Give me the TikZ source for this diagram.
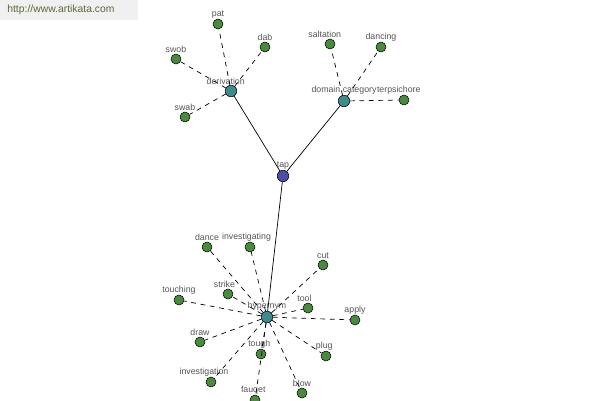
\documentclass[tikz,border=0pt]{standalone}
\usepackage{fontspec}
\setmainfont{Liberation Sans}
\definecolor{tapblue}{HTML}{4B4FA6}
\definecolor{midteal}{HTML}{3F8A8C}
\definecolor{leafgreen}{HTML}{4A8A3C}
\definecolor{labelgray}{HTML}{555555}
\definecolor{markgreen}{HTML}{5A6A3A}
\begin{document}
\begin{tikzpicture}
  [
  x=0.02cm, y=-0.02cm,
  vnode/.style={circle, draw=black, line width=0.3pt, inner sep=0pt, minimum size=10\pgflinewidth},
  rootnode/.style={vnode, fill=tapblue, minimum size=0.23cm},
  midnode/.style={vnode, fill=midteal, minimum size=0.23cm},
  leafnode/.style={vnode, fill=leafgreen, minimum size=0.2cm},
  every label/.style={font=\fontsize{5}{6}\selectfont, text=labelgray, inner sep=0pt},
  label distance=0.2pt,
  rel/.style={draw, line width=0.4pt},
  dashrel/.style={draw, line width=0.4pt, dash pattern=on 2.7pt off 2.7pt}
  ]
  \useasboundingbox (0,0) rectangle (600,400);
  \fill[gray!12] (0,0) rectangle (138,20);
  \node[anchor=west, inner sep=0pt, text=markgreen, font=\fontsize{5.9}{7}\selectfont] (mark) at (7,10) {http://www.artikata.com};

  \node[rootnode, label=above:tap] (tap) at (283,176) {};
  \node[midnode, label={[xshift=-3pt]above:derivation}] (der) at (231,91) {};
  \node[midnode, label=above:domain category] (dom) at (344,101) {};
  \node[midnode, label=above:hypernym] (hyp) at (267,317) {};

  \node[leafnode, label=above:pat] (pat) at (218,24) {};
  \node[leafnode, label=above:dab] (dab) at (265,47) {};
  \node[leafnode, label=above:swob] (swob) at (176,59) {};
  \node[leafnode, label=above:swab] (swab) at (185,117) {};

  \node[leafnode, label={[xshift=-3pt]above:saltation}] (salt) at (330,44) {};
  \node[leafnode, label=above:dancing] (danc) at (381,47) {};
  \node[leafnode, label={[xshift=-3pt]above:terpsichore}] (terp) at (404,100) {};

  \node[leafnode, label=above:dance] (dance) at (207,247) {};
  \node[leafnode, label={[xshift=-2pt]above:investigating}] (invg) at (250,247) {};
  \node[leafnode, label=above:cut] (cut) at (323,265) {};
  \node[leafnode, label={[xshift=-2pt]above:strike}] (strike) at (228,294) {};
  \node[leafnode, label=above:touching] (touch) at (179,300) {};
  \node[leafnode, label={[xshift=-2pt]above:tool}] (tool) at (308,308) {};
  \node[leafnode, label=above:apply] (apply) at (355,320) {};
  \node[leafnode, label=above:draw] (draw) at (200,342) {};
  \node[leafnode, label={[xshift=-1pt]above:tough}] (tough) at (261,354) {};
  \node[leafnode, label={[xshift=-1pt]above:plug}] (plug) at (326,356) {};
  \node[leafnode, label={[xshift=-4pt]above:investigation}] (invn) at (211,382) {};
  \node[leafnode, label=above:blow] (blow) at (302,393) {};
  \node[leafnode, label={[xshift=-1pt]above:fauqet}] (fauq) at (255,400) {};

  \path[rel] (tap) -- (der);
  \path[rel] (tap) -- (dom);
  \path[rel] (tap) -- (hyp);

  \path[dashrel] (der) -- (pat);
  \path[dashrel] (der) -- (dab);
  \path[dashrel] (der) -- (swob);
  \path[dashrel] (der) -- (swab);

  \path[dashrel] (dom) -- (salt);
  \path[dashrel] (dom) -- (danc);
  \path[dashrel] (dom) -- (terp);

  \path[dashrel] (hyp) -- (dance);
  \path[dashrel] (hyp) -- (invg);
  \path[dashrel] (hyp) -- (cut);
  \path[dashrel] (hyp) -- (strike);
  \path[dashrel] (hyp) -- (touch);
  \path[dashrel] (hyp) -- (tool);
  \path[dashrel] (hyp) -- (apply);
  \path[dashrel] (hyp) -- (draw);
  \path[dashrel] (hyp) -- (tough);
  \path[dashrel] (hyp) -- (plug);
  \path[dashrel] (hyp) -- (invn);
  \path[dashrel] (hyp) -- (blow);
  \path[dashrel] (hyp) -- (fauq);
\end{tikzpicture}
\end{document}
